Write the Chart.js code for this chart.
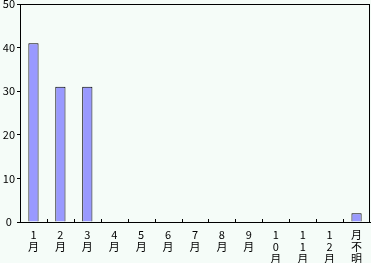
<!DOCTYPE html>
<html>
<head>
<meta charset="utf-8">
<script src="https://cdn.jsdelivr.net/npm/chart.js@4"></script>
<style>
  html, body { margin: 0; padding: 0; background: #f5fcf8; }
  #wrap { width: 371px; height: 263px; }
</style>
</head>
<body>
<div id="wrap"><canvas id="chart"></canvas></div>
<script>
const months = [
    ['1', '月'], ['2', '月'], ['3', '月'], ['4', '月'], ['5', '月'], ['6', '月'],
    ['7', '月'], ['8', '月'], ['9', '月'], ['1', '0', '月'], ['1', '1', '月'], ['1', '2', '月'],
    ['月', '不', '明']
];
const counts = [41, 31, 31, 0, 0, 0, 0, 0, 0, 0, 0, 0, 2];
const yTicks = [0, 10, 20, 30, 40, 50];

const font = { family: '"Noto Sans CJK JP", sans-serif', size: 11, lineHeight: 1.1 };

// frame round the plot + short inward tick marks between categories
const framePlugin = {
    id: 'frame',
    afterDraw(chart) {
        const { ctx, chartArea: a, scales } = chart;
        ctx.save();
        ctx.strokeStyle = '#000';
        ctx.lineWidth = 1;
        ctx.strokeRect(Math.round(a.left) + 0.5, Math.round(a.top) + 0.5,
            Math.round(a.right - a.left) - 1, Math.round(a.bottom - a.top));
        const n = months.length;
        const step = (scales.x.right - scales.x.left) / n;
        ctx.beginPath();
        for (let i = 1; i < n; i++) {
            const x = Math.round(scales.x.left + i * step) + 0.5;
            ctx.moveTo(x, a.bottom);
            ctx.lineTo(x, a.bottom - 3);
        }
        ctx.stroke();
        ctx.restore();
    }
};

new Chart(document.getElementById('chart'), {
    type: 'bar',
    data: {
        labels: months,
        datasets: [{
            data: counts,
            backgroundColor: '#9999ff',
            borderColor: '#000',
            borderWidth: 1,
            barPercentage: 0.38,
            categoryPercentage: 1
        }]
    },
    options: {
        responsive: true,
        maintainAspectRatio: false,
        animation: false,
        layout: { padding: { top: 4, right: 1, left: 0, bottom: 0 } },
        plugins: { legend: { display: false }, tooltip: { enabled: false } },
        scales: {
            x: {
                grid: { display: false },
                border: { display: true, color: '#000' },
                ticks: { color: '#000', font: font, padding: -1, maxRotation: 0, autoSkip: false },
                afterFit(s) { s.height = 41; s.paddingLeft = 0; s.paddingRight = 0; }
            },
            y: {
                min: 0, max: 50,
                afterBuildTicks(s) { s.ticks = yTicks.map(v => ({ value: v })); },
                grid: { drawOnChartArea: false, tickLength: 3, color: '#000' },
                border: { display: true, color: '#000' },
                ticks: { color: '#000', font: font, padding: 2, crossAlign: 'center' },
                afterFit(s) { s.width = 20; s.paddingTop = 0; s.paddingBottom = 0; }
            }
        }
    },
    plugins: [framePlugin]
});
</script>
</body>
</html>
